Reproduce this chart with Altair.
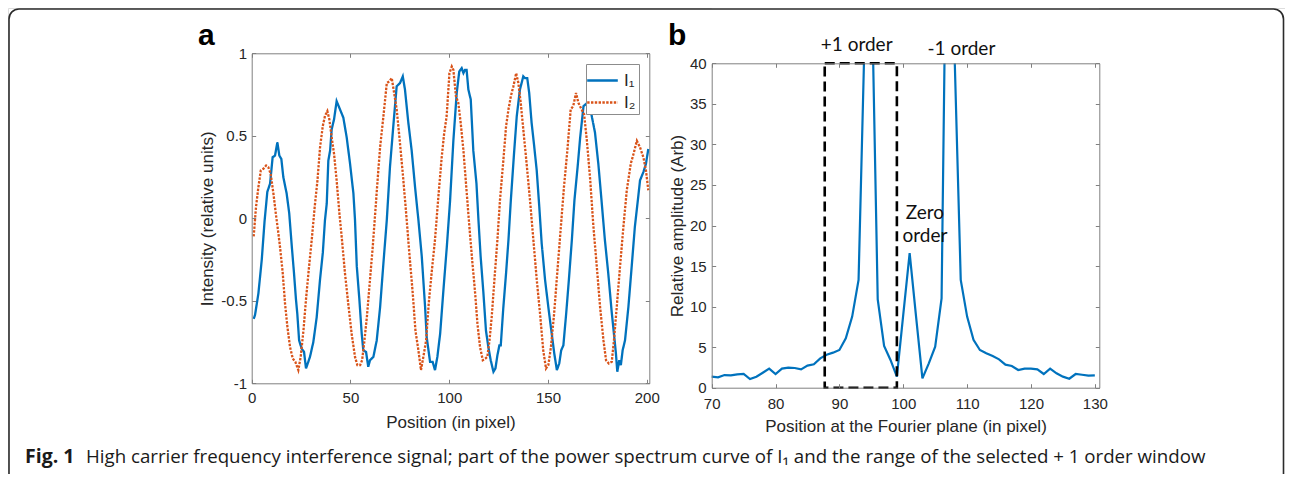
import altair as alt
import pandas as pd

# ---------------- data ----------------
# panel a : intensity profiles
i1_pos = [1, 1.7, 3.4, 5.1, 6.5, 7.9, 9.3, 10.6, 11.8, 13, 14, 15, 16, 17.7, 19, 20.3, 21.4, 22.4, 23.1, 24,
          25.3, 26.5, 27.5, 29.5, 31.2, 32.9, 34.6, 36, 37.1, 38, 38.8, 39.7, 40.5, 41.7, 43, 44.7, 46.4, 48.1,
          49.8, 51.5, 52.3, 53.2, 54.5, 55.7, 56.5, 57.9, 59, 59.9, 61.6, 63.3, 65, 66.7, 68.4, 70, 71.7, 73.4,
          75.1, 76.5, 77.6, 79.3, 81, 82.7, 84.4, 86.1, 87.8, 88.6, 89.4, 90.3, 91.6, 92.8, 94, 95.4, 97.1, 98.8,
          100.4, 102.1, 103.8, 105.1, 106.3, 107.2, 108, 108.8, 109.7, 110.9, 112.2, 113.8, 114.8, 115.9, 117.3,
          118.6, 119.8, 121, 122.4, 123.4, 124.4, 125.4, 126.1, 127.4, 128.8, 130, 131.2, 132.8, 134.2, 135.8,
          137.5, 138.3, 139.5, 140.5, 141.7, 143, 144.3, 145.6, 146.8, 148.5, 150.2, 151.9, 153.2, 154.5, 155.7,
          156.7, 157.8, 159.2, 160.6, 162.1, 163.4, 165, 166.3, 168, 170, 171.5, 173.8, 175.5, 177.1, 178.8,
          180.5, 182.2, 183.4, 184.4, 185.1, 186.1, 186.9, 187.8, 189, 190.7, 192.4, 194, 195.7, 196.6, 198.3,
          199.6, 200.8]
i1_val = [-0.61, -0.585, -0.455, -0.25, -0.02, 0.16, 0.21, 0.37, 0.38, 0.46, 0.38, 0.36, 0.25, 0.15, 0.03, -0.17,
          -0.33, -0.49, -0.58, -0.74, -0.79, -0.81, -0.91, -0.84, -0.75, -0.6, -0.37, -0.21, -0.01, 0.09, 0.35,
          0.41, 0.54, 0.6, 0.71, 0.66, 0.61, 0.49, 0.33, 0.15, -0.01, -0.29, -0.49, -0.7, -0.8, -0.81, -0.9,
          -0.86, -0.84, -0.74, -0.54, -0.27, -0.01, 0.31, 0.56, 0.8, 0.82, 0.86, 0.78, 0.58, 0.41, 0.19, -0.01,
          -0.23, -0.54, -0.72, -0.79, -0.87, -0.87, -0.92, -0.84, -0.7, -0.43, -0.17, 0.1, 0.47, 0.76, 0.89,
          0.91, 0.88, 0.9, 0.9, 0.78, 0.72, 0.41, 0.21, -0.01, -0.23, -0.45, -0.68, -0.78, -0.86, -0.93, -0.91,
          -0.83, -0.77, -0.77, -0.54, -0.33, -0.13, 0.11, 0.39, 0.62, 0.78, 0.86, 0.85, 0.85, 0.76, 0.58, 0.44,
          0.29, 0.07, -0.15, -0.37, -0.54, -0.7, -0.82, -0.92, -0.88, -0.8, -0.77, -0.58, -0.37, -0.13, 0.11,
          0.31, 0.49, 0.68, 0.7, 0.66, 0.52, 0.33, 0.11, -0.13, -0.33, -0.56, -0.7, -0.82, -0.93, -0.86, -0.89,
          -0.8, -0.74, -0.54, -0.29, -0.05, 0.13, 0.23, 0.28, 0.33, 0.42]
i2_pos = [1, 2.2, 3.4, 4.6, 5.9, 7.3, 8.4, 9.6, 11, 12.3, 13.5, 14.3, 15.7, 16.9, 18.1, 19.4, 20.8, 22.1, 23.6,
          24.8, 26.2, 27.5, 28.9, 30.4, 31.9, 33.3, 34.6, 36, 37.1, 38.3, 39.3, 40.5, 41.7, 43, 44.4, 45.7, 47.2,
          48.9, 50.6, 52.3, 53.5, 54.9, 55.9, 56.9, 58.3, 59.9, 61.3, 62.4, 63.6, 65, 66.7, 68.4, 69.7, 70.9,
          72.1, 73.4, 74.8, 76.5, 78.2, 79.8, 81.5, 82.9, 84.4, 85.7, 86.9, 88.3, 89.6, 91.1, 92.8, 94.5, 96.2,
          97.4, 98.7, 100.1, 101.3, 102.1, 103.4, 104.6, 105.8, 107.2, 108.5, 110.2, 111.6, 113.1, 114.3, 115.6,
          117, 118.3, 119.3, 120.4, 121.5, 122.9, 124.4, 125.7, 127.4, 128.8, 130, 131.2, 132.5, 133.9, 135,
          136.2, 137.5, 139.2, 140.9, 142.6, 144.3, 146, 147.6, 149, 150.2, 151.5, 153.1, 154.7, 156.4, 158.1,
          159.8, 161.5, 162.8, 164.2, 165.4, 167, 168.3, 169.7, 171.4, 173, 174.7, 176.4, 178.1, 179.4, 180.8,
          182.3, 183.4, 184.8, 186.5, 188.2, 189.9, 191.9, 193.3, 195, 196.6, 198.3, 199.6, 200.8]
i2_val = [-0.11, 0.07, 0.19, 0.29, 0.3, 0.32, 0.31, 0.27, 0.15, 0.02, -0.09, -0.17, -0.33, -0.52, -0.66, -0.78,
          -0.85, -0.87, -0.92, -0.84, -0.68, -0.49, -0.31, -0.13, 0.07, 0.23, 0.43, 0.56, 0.62, 0.65, 0.6, 0.49,
          0.39, 0.23, 0.03, -0.13, -0.33, -0.52, -0.7, -0.84, -0.89, -0.89, -0.86, -0.76, -0.6, -0.37, -0.17,
          0.01, 0.21, 0.43, 0.62, 0.82, 0.83, 0.85, 0.76, 0.66, 0.49, 0.27, 0.03, -0.21, -0.45, -0.68, -0.8,
          -0.92, -0.84, -0.74, -0.52, -0.33, -0.13, 0.13, 0.37, 0.51, 0.62, 0.88, 0.92, 0.9, 0.74, 0.7, 0.58,
          0.41, 0.21, -0.05, -0.25, -0.45, -0.64, -0.78, -0.86, -0.85, -0.84, -0.74, -0.6, -0.37, -0.13, 0.11,
          0.35, 0.56, 0.66, 0.74, 0.8, 0.88, 0.82, 0.7, 0.54, 0.33, 0.11, -0.13, -0.37, -0.58, -0.8, -0.91,
          -0.89, -0.78, -0.58, -0.33, -0.07, 0.19, 0.41, 0.66, 0.68, 0.76, 0.7, 0.66, 0.63, 0.47, 0.23, -0.05,
          -0.29, -0.54, -0.74, -0.86, -0.88, -0.87, -0.74, -0.54, -0.29, -0.05, 0.17, 0.33, 0.39, 0.47, 0.43,
          0.37, 0.29, 0.17]
series_names = ["I\u2081", "I\u2082"]

# panel b : power spectrum (positions 70 ... 130)
b_amp = [1.36, 1.28, 1.56, 1.52, 1.65, 1.69, 1.07, 1.36, 1.85, 2.35,
         1.69, 2.35, 2.47, 2.43, 2.26, 2.72, 2.88, 3.62, 4.07, 4.32,
         4.65, 6.09, 8.77, 13.3, 45.0, 52.0, 10.9, 5.14, 3.42, 1.36,
         9.0, 16.6, 8.8, 1.15, 3.0, 5.06, 11.0, 75.0, 42.0, 13.3,
         8.77, 5.9, 4.65, 4.24, 3.9, 3.5, 2.84, 2.67, 2.18, 2.35,
         2.35, 2.26, 1.69, 2.35, 1.77, 1.36, 1.11, 1.69, 1.6, 1.48,
         1.52]
b_pos = list(range(70, 70 + len(b_amp)))

window_x = [87.7, 99.0]      # selected +1 order window
window_y = [0, 40]

a_xticks = [0, 50, 100, 150, 200]
a_yticks = [-1, -0.5, 0, 0.5, 1]
b_xticks = [70, 80, 90, 100, 110, 120, 130]
b_yticks = [0, 5, 10, 15, 20, 25, 30, 35, 40]
a_x_domain = [0, 201.3]
a_y_domain = [-1, 1]
b_x_domain = [70, 130.7]
b_y_domain = [0, 40]

a_title_x = "Position (in pixel)"
a_title_y = "Intensity (relative units)"
b_title_x = "Position at the Fourier plane (in pixel)"
b_title_y = "Relative amplitude (Arb)"

ann_text = ["+1 order", "-1 order", "Zero", "order"]
ann_x = [92.7, 109.1, 103.4, 103.4]
ann_y = [41.5, 41.0, 20.8, 18.0]

tag_a = ["a"]
tag_a_x, tag_a_y = [-27.2], [1.05]
tag_b = ["b"]
tag_b_x, tag_b_y = [63.16], [42.26]

caption_lead = ["Fig. 1"]
caption_body = ["High carrier frequency interference signal; part of the power spectrum curve of "
                "I\u2081 and the range of the selected + 1 order window"]

# ---------------- layout / style ----------------
W, H = 1277, 466
A_XR, A_YR = [243.7, 641.3], [375.3, 45.3]
B_XR, B_YR = [703.7, 1091.3], [379.7, 55.3]
BLUE, ORANGE = "#0072BD", "#D95319"
FRAME_C, TXT = "#808080", "#262626"
FONT = "Liberation Sans"


def sc(dom, rng):
    return alt.Scale(domain=dom, range=rng, nice=False, zero=False)


SA_X, SA_Y = sc(a_x_domain, A_XR), sc(a_y_domain, A_YR)
SB_X, SB_Y = sc(b_x_domain, B_XR), sc(b_y_domain, B_YR)


def ax(orient, offset, values, labels=False, domain=False, ticks=False, **kw):
    d = dict(orient=orient, offset=offset, values=values, labels=labels, domain=domain,
             ticks=ticks, tickSize=4 if ticks else 0, grid=False, zindex=1,
             domainColor=FRAME_C, tickColor=FRAME_C, domainWidth=1, tickWidth=1,
             labelColor=TXT, labelFont=FONT, labelFontSize=15, labelFlush=False,
             titleColor=TXT, titleFont=FONT, titleFontSize=17, titleFontWeight="normal",
             title=None)
    d.update(kw)
    return alt.Axis(**d)


df_a = pd.concat([
    pd.DataFrame({"pos": i1_pos, "val": i1_val, "series": series_names[0]}),
    pd.DataFrame({"pos": i2_pos, "val": i2_val, "series": series_names[1]}),
], ignore_index=True)
df_b = pd.DataFrame({"pos": b_pos, "amp": b_amp})

leg = alt.Legend(orient="none", legendX=578, legendY=56, title=None, symbolType="M-1.25,0H1.25",
                 symbolSize=600, symbolStrokeWidth=2.3, labelFont=FONT, labelFontSize=17,
                 labelColor=TXT, fillColor="white", strokeColor="#8c8c8c", padding=3,
                 labelOffset=8, rowPadding=0)

a_lines = alt.Chart(df_a).mark_line(strokeWidth=2.3).encode(
    x=alt.X("pos:Q", scale=SA_X, axis=ax("bottom", A_YR[0] - H, a_xticks, labels=True, domain=True,
                                          labelPadding=7.5, title=a_title_x, titlePadding=9)),
    y=alt.Y("val:Q", scale=SA_Y, axis=ax("left", -A_XR[0], a_yticks, labels=True, domain=True,
                                          labelPadding=5, labelExpr="toString(datum.value)",
                                          title=a_title_y, titlePadding=4)),
    color=alt.Color("series:N", scale=alt.Scale(domain=series_names, range=[BLUE, ORANGE]), legend=leg),
    strokeDash=alt.StrokeDash("series:N", scale=alt.Scale(domain=series_names, range=[[1, 0], [2.4, 1.4]]),
                              legend=leg),
    order="pos:Q",
)
a_ticks_in1 = alt.Chart(df_a).mark_line(opacity=0).encode(
    x=alt.X("pos:Q", scale=SA_X, axis=ax("top", -A_YR[0], a_xticks, ticks=True)),
    y=alt.Y("val:Q", scale=SA_Y, axis=ax("right", A_XR[0] - W, a_yticks, ticks=True)),
)
a_ticks_in2 = alt.Chart(df_a).mark_line(opacity=0).encode(
    x=alt.X("pos:Q", scale=SA_X, axis=ax("bottom", A_YR[1] - H, a_xticks, ticks=True, domain=True)),
    y=alt.Y("val:Q", scale=SA_Y, axis=ax("left", -A_XR[1], a_yticks, ticks=True, domain=True)),
)

b_line = alt.Chart(df_b).mark_line(strokeWidth=2.2, color=BLUE).encode(
    x=alt.X("pos:Q", scale=SB_X, axis=ax("bottom", B_YR[0] - H, b_xticks, labels=True, domain=True,
                                          labelPadding=8.5, title=b_title_x, titlePadding=7)),
    y=alt.Y("amp:Q", scale=SB_Y, axis=ax("left", -B_XR[0], b_yticks, labels=True, domain=True,
                                          labelPadding=5.5, title=b_title_y, titlePadding=3)),
)
b_ticks_in1 = alt.Chart(df_b).mark_line(opacity=0).encode(
    x=alt.X("pos:Q", scale=SB_X, axis=ax("top", -B_YR[0], b_xticks, ticks=True)),
    y=alt.Y("amp:Q", scale=SB_Y, axis=ax("right", B_XR[0] - W, b_yticks, ticks=True)),
)
b_ticks_in2 = alt.Chart(df_b).mark_line(opacity=0).encode(
    x=alt.X("pos:Q", scale=SB_X, axis=ax("bottom", B_YR[1] - H, b_xticks, ticks=True, domain=True)),
    y=alt.Y("amp:Q", scale=SB_Y, axis=ax("left", -B_XR[1], b_yticks, ticks=True, domain=True)),
)

# white mask above panel b (hides the part of the peaks above the axis limit)
mask_df = pd.DataFrame({"lo": [b_x_domain[0]], "hi": [b_x_domain[1]], "top": [b_y_domain[1]]})
b_mask = alt.Chart(mask_df).mark_rect(color="white").encode(
    x=alt.X("lo:Q", scale=SB_X, axis=None), x2="hi:Q",
    y=alt.Y("top:Q", scale=SB_Y, axis=None), y2=alt.value(0),
)

win_df = pd.DataFrame({"x0": [window_x[0]], "x1": [window_x[1]], "y0": [window_y[0]], "y1": [window_y[1]]})
b_window = alt.Chart(win_df).mark_rect(fill="transparent", stroke="black", strokeWidth=2.6,
                                       strokeDash=[10, 5]).encode(
    x=alt.X("x0:Q", scale=SB_X, axis=None), x2="x1:Q",
    y=alt.Y("y0:Q", scale=SB_Y, axis=None), y2="y1:Q",
)

ann_df = pd.DataFrame({"t": ann_text, "x": ann_x, "y": ann_y})
b_ann = alt.Chart(ann_df).mark_text(font="Lato", fontSize=19, color="#111111", align="center",
                                    baseline="alphabetic").encode(
    x=alt.X("x:Q", scale=SB_X, axis=None), y=alt.Y("y:Q", scale=SB_Y, axis=None), text="t:N")

tag_a_layer = alt.Chart(pd.DataFrame({"t": tag_a, "x": tag_a_x, "y": tag_a_y})).mark_text(
    font=FONT, fontSize=30, fontWeight="bold", color="black", align="left", baseline="alphabetic").encode(
    x=alt.X("x:Q", scale=SA_X, axis=None), y=alt.Y("y:Q", scale=SA_Y, axis=None), text="t:N")
tag_b_layer = alt.Chart(pd.DataFrame({"t": tag_b, "x": tag_b_x, "y": tag_b_y})).mark_text(
    font=FONT, fontSize=30, fontWeight="bold", color="black", align="left", baseline="alphabetic").encode(
    x=alt.X("x:Q", scale=SB_X, axis=None), y=alt.Y("y:Q", scale=SB_Y, axis=None), text="t:N")

cap_lead = alt.Chart(pd.DataFrame({"t": caption_lead})).mark_text(
    font="Open Sans", fontSize=19.5, fontWeight="bold", color="#1a1a1a", align="left",
    baseline="alphabetic").encode(x=alt.value(17), y=alt.value(455), text="t:N")
cap_body = alt.Chart(pd.DataFrame({"t": caption_body})).mark_text(
    font="Open Sans", fontSize=18.7, color="#1a1a1a", align="left",
    baseline="alphabetic").encode(x=alt.value(78), y=alt.value(455), text="t:N")

frame = alt.Chart(pd.DataFrame({"k": [0]})).mark_rect(
    fill="transparent", stroke="#2b2b2b", strokeWidth=1.6, cornerRadius=10).encode(
    x=alt.value(1), x2=alt.value(1275.5), y=alt.value(1), y2=alt.value(480))

chart = alt.layer(
    a_lines, a_ticks_in1, a_ticks_in2,
    b_line, b_mask, b_window, b_ticks_in1, b_ticks_in2,
    b_ann, tag_a_layer, tag_b_layer, cap_lead, cap_body, frame,
).resolve_scale(
    x="independent", y="independent", color="independent", strokeDash="independent"
).properties(
    width=W, height=H, padding=0, autosize=alt.AutoSizeParams(type="none"),
).configure_view(stroke=None).configure(background="white")

chart.save("out.html", embed_options={"renderer": "svg", "actions": False})
